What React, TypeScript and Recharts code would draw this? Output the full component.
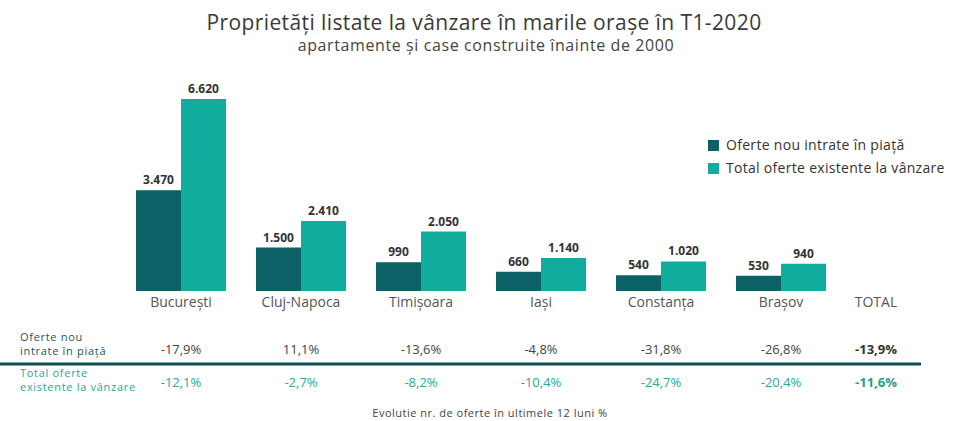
import React from 'react';
import { BarChart, Bar, XAxis, YAxis, Legend, LabelList } from 'recharts';

const cities = ['București', 'Cluj-Napoca', 'Timișoara', 'Iași', 'Constanța', 'Brașov'];
const newOffers = [3470, 1500, 990, 660, 540, 530];
const totalOffers = [6620, 2410, 2050, 1140, 1020, 940];
// evolutie nr. de oferte in ultimele 12 luni (%)
const newChange = [-17.9, 11.1, -13.6, -4.8, -31.8, -26.8];
const totalChange = [-12.1, -2.7, -8.2, -10.4, -24.7, -20.4];
const newChangeTotal = -13.9;
const totalChangeTotal = -11.6;

const DARK = '#0b6166';
const TEAL = '#10ad9f';
const LINE = '#0f5058';
const FONT = "'Open Sans', sans-serif";

const data = cities.map((city, i) => ({
  city,
  nou: newOffers[i],
  total: totalOffers[i],
}));

const fmtNum = (v: number) => v.toLocaleString('de-DE');
const fmtPct = (v: number) => v.toFixed(1).replace('.', ',') + '%';

// category name plus the two rows of the table below it
function CityTick(props: any) {
  const { x, y, payload, index } = props;
  return (
    <g>
      <text x={x} y={y + 8} textAnchor="middle" fontSize={14} fill="#555">
        {payload.value}
      </text>
      <text x={x} y={y + 55} textAnchor="middle" fontSize={13} fill="#444">
        {fmtPct(newChange[index])}
      </text>
      <text x={x} y={y + 88} textAnchor="middle" fontSize={13} fill="#2aa898">
        {fmtPct(totalChange[index])}
      </text>
    </g>
  );
}

export default function App() {
  return (
    <div
      style={{
        position: 'absolute', left: 0, top: 0, width: 956, height: 421,
        background: '#fff', fontFamily: FONT,
      }}
    >
      <BarChart
        width={956}
        height={421}
        data={data}
        margin={{ top: 88, left: 121, right: 115, bottom: 0 }}
        barCategoryGap="12.5%"
        barGap={0}
      >
        <XAxis
          dataKey="city"
          height={130}
          axisLine={false}
          tickLine={false}
          interval={0}
          tick={<CityTick />}
        />
        <YAxis hide domain={[0, 7000]} />
        <Legend
          layout="vertical"
          align="center"
          verticalAlign="middle"
          iconType="square"
          iconSize={11}
          wrapperStyle={{ left: 708, top: 133, width: 250, lineHeight: '22px' }}
          formatter={(value) => (
            <span style={{ color: '#333', fontSize: 14, letterSpacing: 0.3, marginLeft: 3 }}>{value}</span>
          )}
        />
        <Bar dataKey="nou" name="Oferte nou intrate în piață" fill={DARK} isAnimationActive={false}>
          <LabelList dataKey="nou" position="top" offset={6} formatter={fmtNum}
            style={{ fontSize: 12, fontWeight: 700, fill: '#333' }} />
        </Bar>
        <Bar dataKey="total" name="Total oferte existente la vânzare" fill={TEAL} isAnimationActive={false}>
          <LabelList dataKey="total" position="top" offset={6} formatter={fmtNum}
            style={{ fontSize: 12, fontWeight: 700, fill: '#333' }} />
        </Bar>
      </BarChart>

      <svg
        width={956}
        height={421}
        style={{ position: 'absolute', left: 0, top: 0, pointerEvents: 'none', fontFamily: FONT }}
      >
        <text x={484} y={30} textAnchor="middle" fontSize={21} letterSpacing={0.4} fill="#3a3a3a">
          Proprietăți listate la vânzare în marile orașe în T1-2020
        </text>
        <text x={486} y={51} textAnchor="middle" fontSize={16} letterSpacing={0.6} fill="#444">
          apartamente și case construite înainte de 2000
        </text>

        <text x={876} y={307} textAnchor="middle" fontSize={14} fill="#555">TOTAL</text>
        <text x={876} y={354} textAnchor="middle" fontSize={13} fontWeight={700} fill="#333">
          {fmtPct(newChangeTotal)}
        </text>
        <text x={876} y={387} textAnchor="middle" fontSize={13} fontWeight={700} fill="#1f9f90">
          {fmtPct(totalChangeTotal)}
        </text>

        <text x={20} y={341} fontSize={11} letterSpacing={0.7} fill="#1d5560">Oferte nou</text>
        <text x={20} y={355} fontSize={11} letterSpacing={0.7} fill="#1d5560">intrate în piață</text>
        <line x1={0} x2={921} y1={364} y2={364} stroke={LINE} strokeWidth={3} />
        <text x={20} y={377} fontSize={11} letterSpacing={0.7} fill="#2aa898">Total oferte</text>
        <text x={20} y={391} fontSize={11} letterSpacing={0.7} fill="#2aa898">existente la vânzare</text>

        <text x={490} y={417} textAnchor="middle" fontSize={11} letterSpacing={0.5} fill="#444">
          Evolutie nr. de oferte în ultimele 12 luni %
        </text>
      </svg>
    </div>
  );
}
